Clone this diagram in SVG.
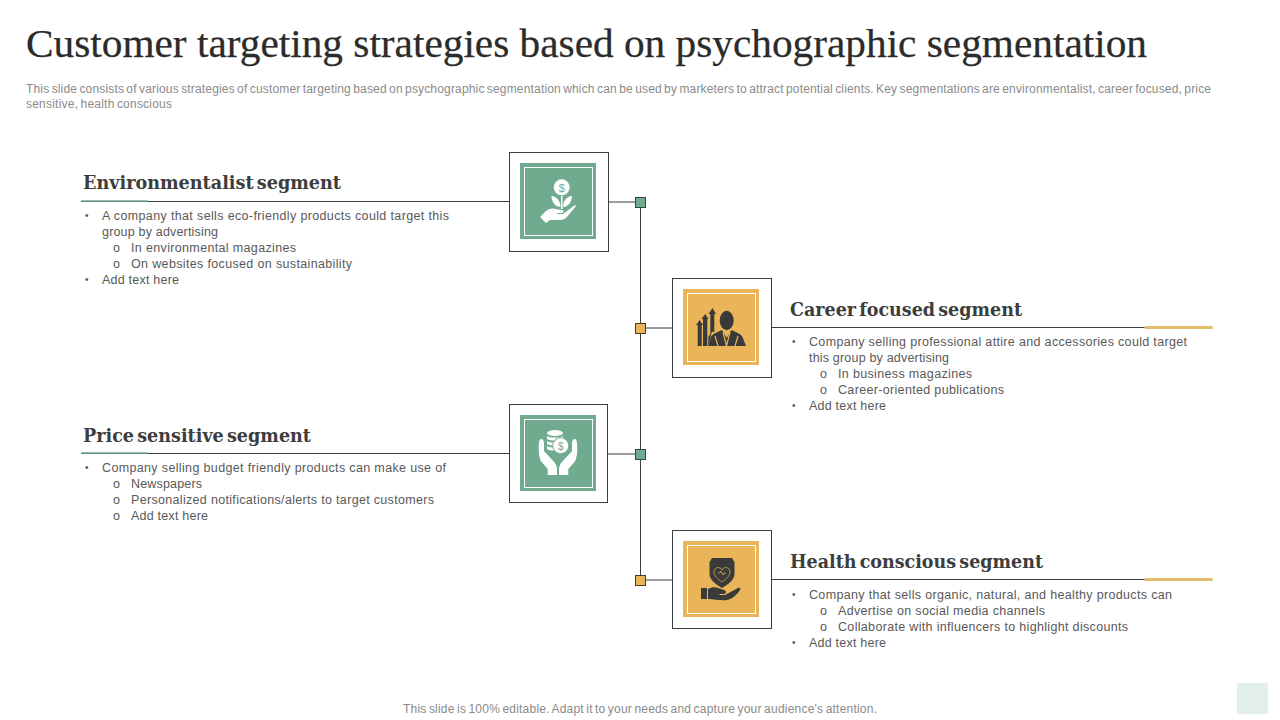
<svg xmlns="http://www.w3.org/2000/svg" width="1280" height="720" viewBox="0 0 1280 720">
<style>
.title{font-family:"Liberation Serif",serif;font-size:40px;fill:#2b2b2b;stroke:#2b2b2b;stroke-width:.25px}
.sub{font-family:"Liberation Sans",Arial,sans-serif;font-size:12px;fill:#8a8a8a;word-spacing:-1.2px}
.head{font-family:"DejaVu Serif","Liberation Serif",serif;font-weight:bold;font-size:18px;fill:#3d3d3d;word-spacing:-3px}
.body{font-family:"Liberation Sans",Arial,sans-serif;font-size:12.5px;fill:#595959}
.bul{font-family:"Liberation Sans",Arial,sans-serif;font-size:10px;fill:#595959}
.line{stroke:#3a3f3f;stroke-width:1;fill:none}
.box{fill:#fff;stroke:#3a3f3f;stroke-width:1}
.frame{fill:none;stroke:#fff;stroke-width:1}
.g{fill:#70ab90}.o{fill:#e9b558}
.dg{fill:#70ab90;stroke:#2f4a42;stroke-width:1}.do{fill:#e9b558;stroke:#4a3a1c;stroke-width:1}
.ic{fill:#3a3a3a}.iw{fill:#fff}
.oa{stroke:#e2bc6a;stroke-width:3;stroke-linecap:round}
.ga{stroke:#70ab90;stroke-width:1.5}
</style>
<rect x="1237" y="683" width="31" height="31" fill="#e2efea"/>
<text class="title" x="26" y="57" textLength="1121" lengthAdjust="spacingAndGlyphs">Customer targeting strategies based on psychographic segmentation</text>
<text class="sub" x="26" y="93" textLength="1185" lengthAdjust="spacing">This slide consists of various strategies of customer targeting based on psychographic segmentation which can be used by marketers to attract potential clients. Key segmentations are environmentalist, career focused, price</text>
<text class="sub" x="26" y="108" textLength="146" lengthAdjust="spacing">sensitive, health conscious</text>

<g id="connectors">
<path class="line" d="M640.5 202V580M608 202H636M608 454H636M645 328H672M645 580H672"/>
<rect class="dg" x="635.5" y="197.500" width="10" height="10"/>
<rect class="do" x="635.5" y="323.500" width="10" height="10"/>
<rect class="dg" x="635.5" y="449.500" width="10" height="10"/>
<rect class="do" x="635.5" y="575.500" width="10" height="10"/>
<path class="line" d="M81 201.5H509M81 453.5H509M772 327.5H1146M772 579.5H1146"/>
<path class="ga" d="M81 201H148"/>
<path class="ga" d="M81 453H148"/>
<path class="oa" d="M1146 327.500H1211.500"/>
<path class="oa" d="M1146 579.500H1211.500"/>
</g>

<g id="node-environmentalist">
<rect class="box" x="509.5" y="152.5" width="99" height="99"/>
<rect class="g" x="520" y="163" width="76" height="76"/>
<rect class="frame" x="524.5" y="167.5" width="68" height="68"/>
<circle class="iw" cx="561.700" cy="187.300" r="8"/>
<text x="561.700" y="191.500" text-anchor="middle" font-family="Liberation Sans,sans-serif" font-size="11" fill="#70ab90">$</text>
<path class="iw" d="M561 196h1.500v13H561zM560.500 207c-5 0-9-5-9-11 5 0 9 5 9 11zM563 207c5 0 9-5 9-11-5 0-9 5-9 11z"/>
<path class="iw" d="M540 217l6-6c3-2 6-3 9-2l7 1c2 0 2 3 0 3h-5v1h6l12-9 1 1-9 11c-3 3-6 3-9 3h-8l-4 3z"/>
<text class="head" x="83" y="189" textLength="258" lengthAdjust="spacingAndGlyphs">Environmentalist segment</text>
<text class="bul" x="85" y="219">•</text>
<text class="body" x="102" y="220" textLength="347" lengthAdjust="spacing">A company that sells eco-friendly products could target this</text>
<text class="body" x="102" y="236" textLength="116" lengthAdjust="spacing">group by advertising</text>
<text class="body" x="113" y="252">o</text>
<text class="body" x="131" y="252" textLength="165" lengthAdjust="spacing">In environmental magazines</text>
<text class="body" x="113" y="268">o</text>
<text class="body" x="131" y="268" textLength="221" lengthAdjust="spacing">On websites focused on sustainability</text>
<text class="bul" x="85" y="283">•</text>
<text class="body" x="102" y="284" textLength="77" lengthAdjust="spacing">Add text here</text>
</g>

<g id="node-career">
<rect class="box" x="672.5" y="278.5" width="99" height="99"/>
<rect class="o" x="683" y="289" width="76" height="76"/>
<rect class="frame" x="687.5" y="293.5" width="68" height="68"/>
<path class="ic" d="M697.700 346v-21H696l3.700-5 3.300 5h-1.300v21zM703 346v-27h-1.500l3.700-5 3.300 5h-1.200v27zM708.300 346v-9l2-3v-20h-1.800l4-6 3.500 6h-1.700v18h-2v-2z"/>
<ellipse class="ic" cx="726.700" cy="320.500" rx="7" ry="9.700"/>
<path class="ic" d="M708 346l3-9c1-3 7-5 11-7l4.700 8 4.800-8c4 2 10 4 11 7l3.500 9z"/>
<path d="M723 332l3.500 14M730 332l-3.500 14M715 336l3 10M738 336l-3 10" stroke="#e9b558" stroke-width="1.200" fill="none"/>
<text class="head" x="790" y="316" textLength="232" lengthAdjust="spacingAndGlyphs">Career focused segment</text>
<text class="bul" x="792" y="345">•</text>
<text class="body" x="809" y="346" textLength="378" lengthAdjust="spacing">Company selling professional attire and accessories could target</text>
<text class="body" x="809" y="362" textLength="140" lengthAdjust="spacing">this group by advertising</text>
<text class="body" x="820" y="378">o</text>
<text class="body" x="838" y="378" textLength="134" lengthAdjust="spacing">In business magazines</text>
<text class="body" x="820" y="394">o</text>
<text class="body" x="838" y="394" textLength="166" lengthAdjust="spacing">Career-oriented publications</text>
<text class="bul" x="792" y="409">•</text>
<text class="body" x="809" y="410" textLength="77" lengthAdjust="spacing">Add text here</text>
</g>

<g id="node-price">
<rect class="box" x="509.5" y="404.5" width="98" height="98"/>
<rect class="g" x="520" y="415" width="76" height="76"/>
<rect class="frame" x="524.500" y="419.500" width="68" height="68"/>
<ellipse class="iw" cx="555" cy="433" rx="8" ry="3"/>
<path class="iw" d="M547 436c3 2 13 2 16 0v3c-3 2-13 2-16 0zM547 441c3 2 13 2 16 0v3c-3 2-13 2-16 0zM547 446c3 2 13 2 16 0v3c-3 2-13 2-16 0z"/>
<circle class="iw" cx="560.700" cy="445.700" r="8" stroke="#70ab90"/>
<text x="560.700" y="449.500" text-anchor="middle" font-family="Liberation Sans,sans-serif" font-size="10" fill="#70ab90">$</text>
<path class="iw" d="M541 439c2 0 3 2 3 4v8l11 12c1 2 2 4 2 6v6h-9.300v-6l-7-8c-1-3-2-7-2-11 0-4 0-11 2.300-11zM575 439c-2 0-3 2-3 4v8l-11 12c-1 2-2 4-2 6v6h9.300v-6l7-8c1-3 2-7 2-11 0-4 0-11-2.300-11z"/>
<text class="head" x="83" y="442" textLength="228" lengthAdjust="spacingAndGlyphs">Price sensitive segment</text>
<text class="bul" x="85" y="471">•</text>
<text class="body" x="102" y="472" textLength="344" lengthAdjust="spacing">Company selling budget friendly products can make use of</text>
<text class="body" x="113" y="488">o</text>
<text class="body" x="131" y="488" textLength="71" lengthAdjust="spacing">Newspapers</text>
<text class="body" x="113" y="504">o</text>
<text class="body" x="131" y="504" textLength="303" lengthAdjust="spacing">Personalized notifications/alerts to target customers</text>
<text class="body" x="113" y="520">o</text>
<text class="body" x="131" y="520" textLength="77" lengthAdjust="spacing">Add text here</text>
</g>

<g id="node-health">
<rect class="box" x="672.5" y="530.5" width="99" height="98"/>
<rect class="o" x="683" y="541" width="76" height="76"/>
<rect class="frame" x="687.5" y="545.5" width="68" height="68"/>
<path class="ic" d="M712 558h20l2 3.500h.5v12c0 7-7 11-12.500 14.500-5.500-3.500-12.500-7.500-12.500-14.500v-12h.5z"/>
<path d="M722 582c-4-3-8-6-8-10 0-5 6-6 8-2 2-4 8-3 8 2 0 4-4 7-8 10z" fill="none" stroke="#e9b558" stroke-width="0.7"/>
<path d="M718 573h2l1-2 2 4 1-2h2" fill="none" stroke="#e9b558" stroke-width="0.7"/>
<path class="ic" d="M701 588h6v11h-6zM708 589c4-2 7-2 10-1l6 2c3 1 2 4 0 4h-5l1 1h5l13-7c2-1 3 1 2 2-3 5-8 9-13 10-6 1-12-1-19-1z"/>
<text class="head" x="790" y="568" textLength="253" lengthAdjust="spacingAndGlyphs">Health conscious segment</text>
<text class="bul" x="792" y="598">•</text>
<text class="body" x="809" y="599" textLength="363" lengthAdjust="spacing">Company that sells organic, natural, and healthy products can</text>
<text class="body" x="820" y="615">o</text>
<text class="body" x="838" y="615" textLength="207" lengthAdjust="spacing">Advertise on social media channels</text>
<text class="body" x="820" y="631">o</text>
<text class="body" x="838" y="631" textLength="290" lengthAdjust="spacing">Collaborate with influencers to highlight discounts</text>
<text class="bul" x="792" y="646">•</text>
<text class="body" x="809" y="647" textLength="77" lengthAdjust="spacing">Add text here</text>
</g>

<text class="sub" x="403" y="713" textLength="474" lengthAdjust="spacing">This slide is 100% editable. Adapt it to your needs and capture your audience's attention.</text>
</svg>
